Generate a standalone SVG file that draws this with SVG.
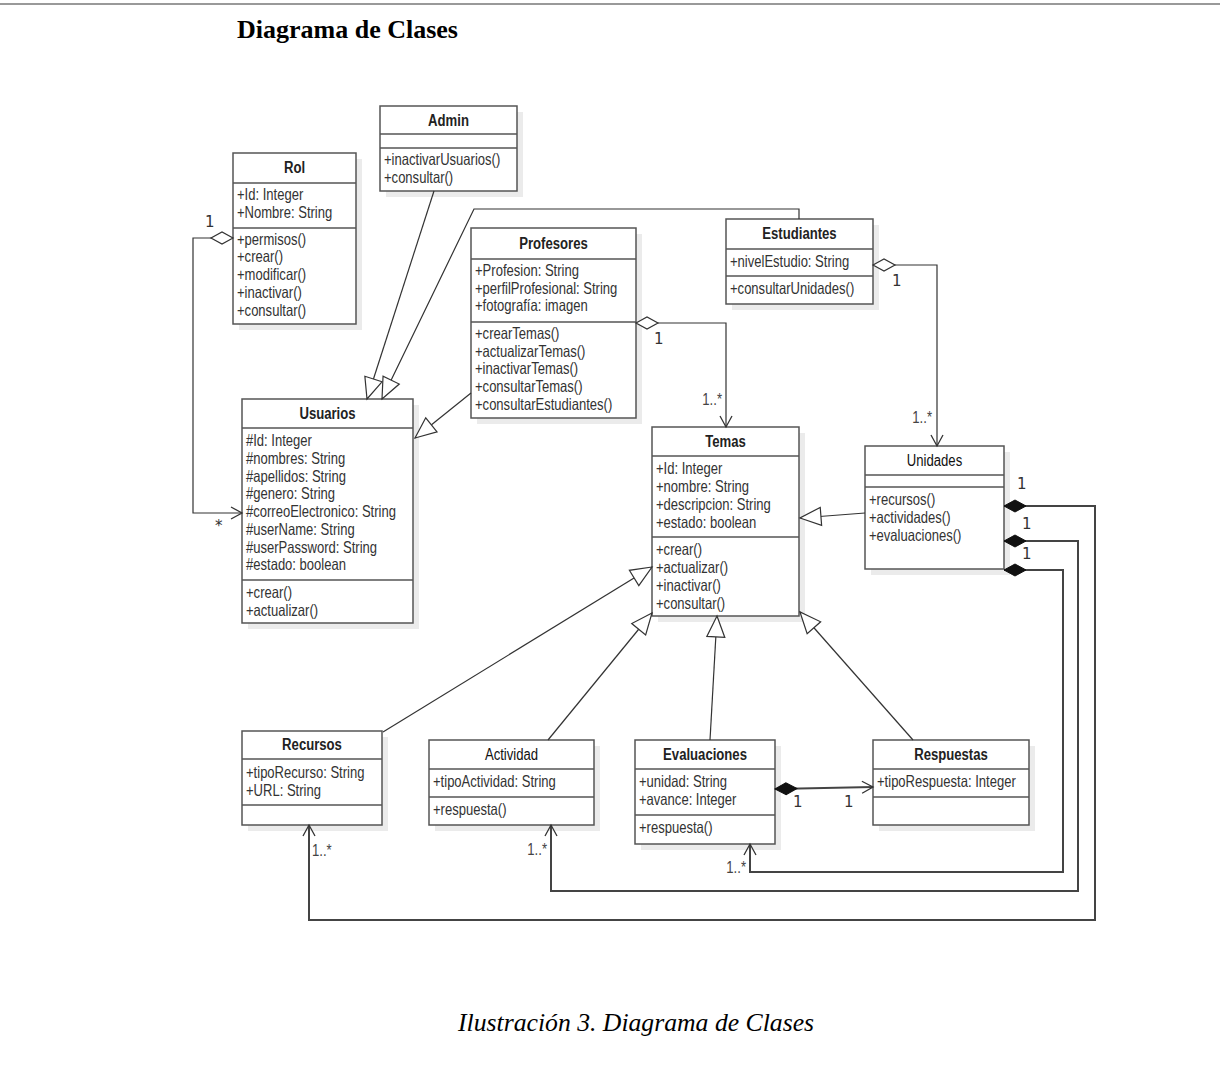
<svg xmlns="http://www.w3.org/2000/svg" width="1220" height="1068" viewBox="0 0 1220 1068">
<style>
.shadow{fill:#ebebeb;stroke:none}
.box{fill:#fff;stroke:#555;stroke-width:1.5}
.sep{stroke:#555;stroke-width:1.5}
.title{font-family:"Liberation Sans",Arial,sans-serif;font-size:16px;font-weight:bold;fill:#222;text-anchor:middle}
.title.n{font-weight:normal;fill:#111}
.t{font-family:"Liberation Sans",Arial,sans-serif;font-size:16.3px;fill:#333}
.conn{fill:none;stroke:#333;stroke-width:1.2}
.thick{fill:none;stroke:#444;stroke-width:2}
.m{font-family:"DejaVu Sans",sans-serif;font-size:15px;fill:#333}
.ms{font-family:"Liberation Sans",Arial,sans-serif;font-size:16px;fill:#444}
</style>
<defs>
<marker id="tri" markerUnits="userSpaceOnUse" viewBox="-23 -11 25 22" refX="0" refY="0" markerWidth="25" markerHeight="22" orient="auto">
<path d="M0,0 L-21,-9 L-21,9 Z" fill="#fff" stroke="#333" stroke-width="1.2"/>
</marker>
<marker id="arr" markerUnits="userSpaceOnUse" viewBox="-13 -7 15 14" refX="0" refY="0" markerWidth="15" markerHeight="14" orient="auto">
<path d="M-11,-6 L0,0 L-11,6" fill="none" stroke="#333" stroke-width="1.3"/>
</marker>
<marker id="dia" markerUnits="userSpaceOnUse" viewBox="-2 -8 26 16" refX="0" refY="0" markerWidth="26" markerHeight="16" orient="auto">
<path d="M0,0 L11,-6 L22,0 L11,6 Z" fill="#fff" stroke="#333" stroke-width="1.2"/>
</marker>
<marker id="fdia" markerUnits="userSpaceOnUse" viewBox="-2 -8 26 16" refX="0" refY="0" markerWidth="26" markerHeight="16" orient="auto">
<path d="M0,0 L11,-6 L22,0 L11,6 Z" fill="#111" stroke="#111" stroke-width="1"/>
</marker>
</defs>
<rect x="0" y="0" width="1220" height="1068" fill="#fff"/>
<line x1="0" y1="4" x2="1220" y2="4" stroke="#999" stroke-width="2"/>
<text x="237" y="38" font-family="Liberation Serif,serif" font-size="26" font-weight="bold" fill="#000">Diagrama de Clases</text>
<text x="458" y="1031" font-family="Liberation Serif,serif" font-size="25.7" font-style="italic" fill="#000">Ilustración 3. Diagrama de Clases</text>

<g id="rol">
<rect class="shadow" x="239" y="159" width="123" height="171"/>
<rect class="box" x="233" y="153" width="123" height="171"/>
<line class="sep" x1="233" y1="183" x2="356" y2="183"/>
<line class="sep" x1="233" y1="228" x2="356" y2="228"/>
<g transform="translate(294.5,0) scale(0.82,1)"><text class="title" x="0" y="173">Rol</text></g>
<g transform="translate(237,0) scale(0.8,1)">
<text class="t" x="0" y="200">+Id: Integer</text>
<text class="t" x="0" y="218">+Nombre: String</text>
<text class="t" x="0" y="245">+permisos()</text>
<text class="t" x="0" y="262">+crear()</text>
<text class="t" x="0" y="280">+modificar()</text>
<text class="t" x="0" y="298">+inactivar()</text>
<text class="t" x="0" y="316">+consultar()</text>
</g>
</g>

<g id="admin">
<rect class="shadow" x="386" y="112" width="137" height="85"/>
<rect class="box" x="380" y="106" width="137" height="85"/>
<line class="sep" x1="380" y1="134" x2="517" y2="134"/>
<line class="sep" x1="380" y1="148" x2="517" y2="148"/>
<g transform="translate(448.5,0) scale(0.82,1)"><text class="title" x="0" y="126">Admin</text></g>
<g transform="translate(384,0) scale(0.8,1)">
<text class="t" x="0" y="165">+inactivarUsuarios()</text>
<text class="t" x="0" y="183">+consultar()</text>
</g>
</g>

<g id="usuarios">
<rect class="shadow" x="248" y="405" width="171" height="224"/>
<rect class="box" x="242" y="399" width="171" height="224"/>
<line class="sep" x1="242" y1="428" x2="413" y2="428"/>
<line class="sep" x1="242" y1="580" x2="413" y2="580"/>
<g transform="translate(327.5,0) scale(0.82,1)"><text class="title" x="0" y="419">Usuarios</text></g>
<g transform="translate(246,0) scale(0.8,1)">
<text class="t" x="0" y="446">#Id: Integer</text>
<text class="t" x="0" y="464">#nombres: String</text>
<text class="t" x="0" y="482">#apellidos: String</text>
<text class="t" x="0" y="499">#genero: String</text>
<text class="t" x="0" y="517">#correoElectronico: String</text>
<text class="t" x="0" y="535">#userName: String</text>
<text class="t" x="0" y="553">#userPassword: String</text>
<text class="t" x="0" y="570">#estado: boolean</text>
<text class="t" x="0" y="598">+crear()</text>
<text class="t" x="0" y="616">+actualizar()</text>
</g>
</g>

<g id="profesores">
<rect class="shadow" x="477" y="234" width="165" height="190"/>
<rect class="box" x="471" y="228" width="165" height="190"/>
<line class="sep" x1="471" y1="259" x2="636" y2="259"/>
<line class="sep" x1="471" y1="322" x2="636" y2="322"/>
<g transform="translate(553.5,0) scale(0.82,1)"><text class="title" x="0" y="249">Profesores</text></g>
<g transform="translate(475,0) scale(0.8,1)">
<text class="t" x="0" y="276">+Profesion: String</text>
<text class="t" x="0" y="294">+perfilProfesional: String</text>
<text class="t" x="0" y="311">+fotografía: imagen</text>
<text class="t" x="0" y="339">+crearTemas()</text>
<text class="t" x="0" y="357">+actualizarTemas()</text>
<text class="t" x="0" y="374">+inactivarTemas()</text>
<text class="t" x="0" y="392">+consultarTemas()</text>
<text class="t" x="0" y="410">+consultarEstudiantes()</text>
</g>
</g>

<g id="estudiantes">
<rect class="shadow" x="732" y="225" width="147" height="85"/>
<rect class="box" x="726" y="219" width="147" height="85"/>
<line class="sep" x1="726" y1="249" x2="873" y2="249"/>
<line class="sep" x1="726" y1="276" x2="873" y2="276"/>
<g transform="translate(799.5,0) scale(0.82,1)"><text class="title" x="0" y="239">Estudiantes</text></g>
<g transform="translate(730,0) scale(0.8,1)">
<text class="t" x="0" y="267">+nivelEstudio: String</text>
<text class="t" x="0" y="294">+consultarUnidades()</text>
</g>
</g>

<g id="temas">
<rect class="shadow" x="658" y="433" width="147" height="189"/>
<rect class="box" x="652" y="427" width="147" height="189"/>
<line class="sep" x1="652" y1="456" x2="799" y2="456"/>
<line class="sep" x1="652" y1="537" x2="799" y2="537"/>
<g transform="translate(725.5,0) scale(0.82,1)"><text class="title" x="0" y="447">Temas</text></g>
<g transform="translate(656,0) scale(0.8,1)">
<text class="t" x="0" y="474">+Id: Integer</text>
<text class="t" x="0" y="492">+nombre: String</text>
<text class="t" x="0" y="510">+descripcion: String</text>
<text class="t" x="0" y="528">+estado: boolean</text>
<text class="t" x="0" y="555">+crear()</text>
<text class="t" x="0" y="573">+actualizar()</text>
<text class="t" x="0" y="591">+inactivar()</text>
<text class="t" x="0" y="609">+consultar()</text>
</g>
</g>

<g id="unidades">
<rect class="shadow" x="871" y="452" width="139" height="123"/>
<rect class="box" x="865" y="446" width="139" height="123"/>
<line class="sep" x1="865" y1="475" x2="1004" y2="475"/>
<line class="sep" x1="865" y1="487" x2="1004" y2="487"/>
<g transform="translate(934.5,0) scale(0.82,1)"><text class="title n" x="0" y="466">Unidades</text></g>
<g transform="translate(869,0) scale(0.8,1)">
<text class="t" x="0" y="505">+recursos()</text>
<text class="t" x="0" y="523">+actividades()</text>
<text class="t" x="0" y="541">+evaluaciones()</text>
</g>
</g>

<g id="recursos">
<rect class="shadow" x="248" y="737" width="140" height="94"/>
<rect class="box" x="242" y="731" width="140" height="94"/>
<line class="sep" x1="242" y1="759" x2="382" y2="759"/>
<line class="sep" x1="242" y1="805" x2="382" y2="805"/>
<g transform="translate(312,0) scale(0.82,1)"><text class="title" x="0" y="750">Recursos</text></g>
<g transform="translate(246,0) scale(0.8,1)">
<text class="t" x="0" y="778">+tipoRecurso: String</text>
<text class="t" x="0" y="796">+URL: String</text>
</g>
</g>

<g id="actividad">
<rect class="shadow" x="435" y="746" width="165" height="85"/>
<rect class="box" x="429" y="740" width="165" height="85"/>
<line class="sep" x1="429" y1="769" x2="594" y2="769"/>
<line class="sep" x1="429" y1="797" x2="594" y2="797"/>
<g transform="translate(511.5,0) scale(0.82,1)"><text class="title n" x="0" y="760">Actividad</text></g>
<g transform="translate(433,0) scale(0.8,1)">
<text class="t" x="0" y="787">+tipoActividad: String</text>
<text class="t" x="0" y="815">+respuesta()</text>
</g>
</g>

<g id="evaluaciones">
<rect class="shadow" x="641" y="746" width="140" height="104"/>
<rect class="box" x="635" y="740" width="140" height="104"/>
<line class="sep" x1="635" y1="769" x2="775" y2="769"/>
<line class="sep" x1="635" y1="815" x2="775" y2="815"/>
<g transform="translate(705,0) scale(0.82,1)"><text class="title" x="0" y="760">Evaluaciones</text></g>
<g transform="translate(639,0) scale(0.8,1)">
<text class="t" x="0" y="787">+unidad: String</text>
<text class="t" x="0" y="805">+avance: Integer</text>
<text class="t" x="0" y="833">+respuesta()</text>
</g>
</g>

<g id="respuestas">
<rect class="shadow" x="879" y="746" width="156" height="85"/>
<rect class="box" x="873" y="740" width="156" height="85"/>
<line class="sep" x1="873" y1="769" x2="1029" y2="769"/>
<line class="sep" x1="873" y1="797" x2="1029" y2="797"/>
<g transform="translate(951,0) scale(0.82,1)"><text class="title" x="0" y="760">Respuestas</text></g>
<g transform="translate(877,0) scale(0.8,1)">
<text class="t" x="0" y="787">+tipoRespuesta: Integer</text>
</g>
</g>

<g id="connectors">
<path class="conn" d="M233,238 H193 V513 H242" marker-start="url(#dia)" marker-end="url(#arr)"/>
<path class="conn" d="M434,191 L367,399" marker-end="url(#tri)"/>
<path class="conn" d="M799,219 V209 H474 L382,399" marker-end="url(#tri)"/>
<path class="conn" d="M471,393 L415,438" marker-end="url(#tri)"/>
<path class="conn" d="M636,323 H726 V427" marker-start="url(#dia)" marker-end="url(#arr)"/>
<path class="conn" d="M873,265 H937 V446" marker-start="url(#dia)" marker-end="url(#arr)"/>
<path class="conn" d="M865,513 L800,518" marker-end="url(#tri)"/>
<path class="conn" d="M383,732 L652,567" marker-end="url(#tri)"/>
<path class="conn" d="M548,740 L652,613" marker-end="url(#tri)"/>
<path class="conn" d="M710,740 L717,616" marker-end="url(#tri)"/>
<path class="conn" d="M913,740 L800,612" marker-end="url(#tri)"/>
<path class="thick" d="M775,789 L873,787" marker-start="url(#fdia)" marker-end="url(#arr)"/>
<path class="thick" d="M1004,506 H1095 V920 H309 V825" marker-start="url(#fdia)" marker-end="url(#arr)"/>
<path class="thick" d="M1004,541 H1078 V891 H551 V825" marker-start="url(#fdia)" marker-end="url(#arr)"/>
<path class="thick" d="M1004,570 H1063 V872 H750 V844" marker-start="url(#fdia)" marker-end="url(#arr)"/>
<text class="m" x="205" y="227">1</text>
<text class="m" x="215" y="531" font-size="11">*</text>
<text class="m" x="654" y="344">1</text>
<g transform="translate(722,0) scale(0.82,1)"><text class="ms" x="0" y="405" text-anchor="end">1..*</text></g>
<text class="m" x="892" y="286">1</text>
<g transform="translate(932,0) scale(0.82,1)"><text class="ms" x="0" y="423" text-anchor="end">1..*</text></g>
<text class="m" x="1017" y="489">1</text>
<text class="m" x="1022" y="529">1</text>
<text class="m" x="1022" y="559">1</text>
<text class="m" x="793" y="807">1</text>
<text class="m" x="844" y="807">1</text>
<g transform="translate(312,0) scale(0.82,1)"><text class="ms" x="0" y="856">1..*</text></g>
<g transform="translate(547,0) scale(0.82,1)"><text class="ms" x="0" y="855" text-anchor="end">1..*</text></g>
<g transform="translate(746,0) scale(0.82,1)"><text class="ms" x="0" y="873" text-anchor="end">1..*</text></g>
</g>
</svg>
